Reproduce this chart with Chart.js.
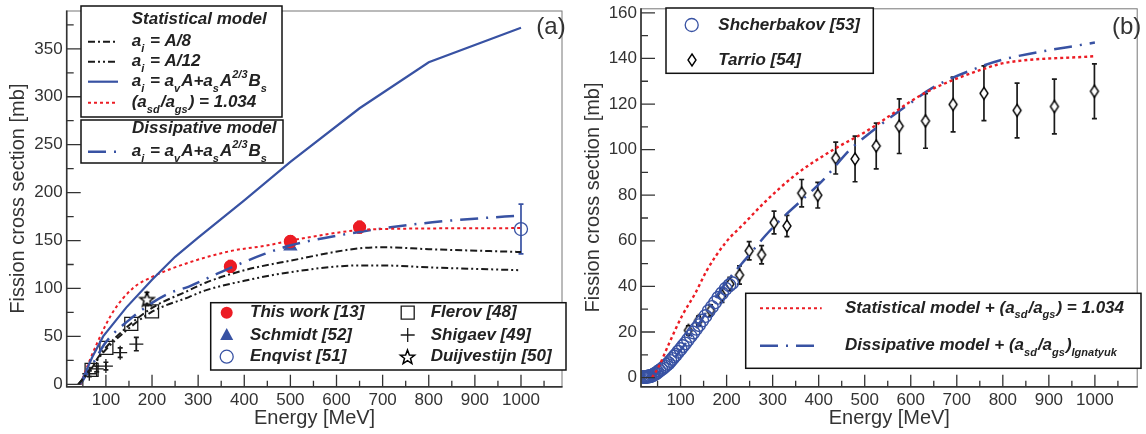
<!DOCTYPE html>
<html>
<head>
<meta charset="utf-8">
<script src="https://cdn.jsdelivr.net/npm/chart.js@4.4.1/dist/chart.umd.min.js"></script>
<style>
  html, body { margin: 0; padding: 0; background: #fff; }
  #wrap { position: relative; width: 1146px; height: 434px; }
  canvas { position: absolute; top: 0; }
</style>
</head>
<body>
<div id="wrap">
  <canvas id="ca" width="573" height="434" style="left:0"></canvas>
  <canvas id="cb" width="573" height="434" style="left:573px"></canvas>
</div>
<script>
const FONT = '"Liberation Sans", Arial, Helvetica, sans-serif';
const BLUE = '#3852a3', RED = '#ec1c24', INK = '#1a1a1a';

// ---- ticks
const xTicks = [100, 200, 300, 400, 500, 600, 700, 800, 900, 1000];
const yTicksA = [0, 50, 100, 150, 200, 250, 300, 350];
const yTicksB = [0, 20, 40, 60, 80, 100, 120, 140, 160];

// ---- panel (a): model curves
const a8E  = [40, 60, 94, 144, 201, 280, 316, 400, 500, 651, 700, 800, 1000];
const a8   = [0, 12, 35, 59, 80, 98, 106, 119, 129, 142, 143, 141, 138];
const a12E = [40, 60, 94, 144, 201, 280, 316, 400, 500, 651, 700, 800, 1000];
const a12  = [0, 11, 33, 56, 76, 91, 98, 108, 117, 124, 124, 122, 119];
const shellE = [44, 50, 70, 94, 144, 200, 250, 300, 400, 500, 650, 800, 1000];
const shell  = [0, 6, 28, 50, 80, 109, 133, 153, 192, 232, 288, 336, 372];
const ratioE = [45, 51, 80, 116, 158, 200, 280, 370, 451, 500, 650, 700, 1000];
const ratio  = [0, 8, 42, 76, 100, 112, 127, 139, 145, 150, 161, 162, 163];
const dissE = [45, 70, 100, 150, 200, 237, 280, 344, 444, 501, 650, 808, 965, 1000];
const diss  = [0, 20, 44, 67, 85, 95, 102, 116, 136, 145, 159, 169, 175, 176];

// ---- panel (a): measurements
const thisWorkE = [370, 500, 650], thisWork = [123, 149, 164], thisWorkErr = [6, 6, 6];
const schmidtE = [500], schmidt = [144];
const enqvistE = [1000], enqvist = [162], enqvistErr = [26];
const flerovE = [69, 101, 155, 200], flerov = [15, 38, 63, 76];
const shigaevE = [64, 80, 100, 131, 166], shigaev = [11, 16, 19, 33, 42], shigaevErr = [3, 3, 4, 5, 7];
const duijE = [189], duij = [89], duijErr = [7];

// ---- panel (b)
const statBE = [38, 53, 75, 103, 132, 157, 197, 240, 283, 350, 432, 503, 632, 767, 803, 1000];
const statB  = [0, 5, 15, 27, 37, 47, 59, 68, 77, 89, 100, 108, 125, 136, 138, 141];
const dissBE = [25, 50, 75, 100, 132, 160, 200, 250, 283, 311, 411, 468, 503, 610, 646, 760, 810, 1000];
const dissB  = [0, 2, 6, 12, 21, 30, 42, 54, 62, 68, 87, 100, 106, 122, 127, 137, 140, 147];
const shchE = [19, 21, 23, 25, 27, 29, 31, 33, 35, 38, 41, 44, 47, 50, 54, 58, 62, 66, 70, 74, 78, 82, 86, 90, 95, 100,
               105, 110, 116, 122, 128, 134, 140, 147, 154, 161, 168, 175, 182, 190, 198, 206, 212];
const shch  = [0.3, 0.3, 0.3, 0.3, 0.4, 0.5, 0.5, 0.6, 0.7, 0.9, 1.2, 1.6, 1.9, 2.4, 3.0, 3.6, 4.2, 4.9, 5.6, 6.3, 7.3, 8.2, 9.2, 10, 11.3, 12.5,
               13.8, 15, 16.6, 18.2, 19.8, 21.4, 23, 25, 27, 29.2, 31, 33, 35, 37, 39, 40.5, 41.5];
const tarrioE = [117, 139, 165, 190, 207, 228, 249, 276, 303, 331, 363, 398, 437, 479, 525, 575, 632, 692, 759, 831, 912, 999];
const tarrio  = [20.7, 25, 29.4, 36, 41, 45, 55.6, 53.9, 68, 66.5, 80.9, 80, 96.3, 95.9, 101.6, 110.3, 112.6, 119.8, 124.7, 117.2, 118.9, 125.6];
const tarrioErr = [2, 2, 2.5, 3, 3, 4, 4, 4, 5, 4.7, 6, 5.6, 7, 10, 10, 12, 12, 12, 12, 12, 12, 12];

// ---- marker images
function starImg(R) {
  const s = Math.ceil(2 * R + 4), c = document.createElement('canvas');
  c.width = c.height = s;
  const g = c.getContext('2d');
  g.beginPath();
  for (let k = 0; k < 10; k++) {
    const r = k % 2 ? R * 0.42 : R, t = -Math.PI / 2 + k * Math.PI / 5;
    g.lineTo(s / 2 + r * Math.cos(t), s / 2 + 1 + r * Math.sin(t));
  }
  g.closePath();
  g.fillStyle = '#fff'; g.fill();
  g.strokeStyle = '#000'; g.lineWidth = 1.5; g.stroke();
  return c;
}
function diamondImg(hw, hh) {
  const c = document.createElement('canvas');
  c.width = Math.ceil(2 * hw + 4); c.height = Math.ceil(2 * hh + 4);
  const g = c.getContext('2d'), cx = c.width / 2, cy = c.height / 2;
  g.beginPath();
  g.moveTo(cx, cy - hh); g.lineTo(cx + hw, cy); g.lineTo(cx, cy + hh); g.lineTo(cx - hw, cy); g.closePath();
  g.fillStyle = '#fff'; g.fill();
  g.strokeStyle = '#000'; g.lineWidth = 1.4; g.stroke();
  return c;
}
const STAR = starImg(7.5);
const DIAM = diamondImg(4, 6);

function xy(E, V) { return E.map((x, i) => ({ x: x, y: V[i] })); }
function curve(E, V, color, dash, w, smooth) {
  return { data: xy(E, V), borderColor: color, borderDash: dash, borderWidth: w, pointRadius: 0,
           fill: false, cubicInterpolationMode: smooth ? 'monotone' : 'default', tension: 0 };
}
function marks(E, V, style, r, stroke, fill, err, errColor, bw) {
  return { data: xy(E, V), showLine: false, pointStyle: style, pointRadius: r,
           pointBorderColor: stroke, pointBackgroundColor: fill, pointBorderWidth: bw || 1.3,
           errY: err, errColor: errColor };
}

function scaleOpts(xr, yr, yt, yw) {
  const tf = { family: FONT, size: 17 };
  return {
    x: {
      type: 'linear', min: xr[0], max: xr[1],
      grid: { display: false, drawTicks: false }, border: { display: false },
      afterBuildTicks: s => { s.ticks = xTicks.map(v => ({ value: v })); },
      afterFit: s => { s.height = 47.3; s.paddingLeft = 0; s.paddingRight = 0; },
      ticks: { autoSkip: false, maxRotation: 0, padding: 3, color: '#333', font: tf, callback: v => String(v) }
    },
    y: {
      type: 'linear', min: yr[0], max: yr[1],
      grid: { display: false, drawTicks: false }, border: { display: false },
      afterBuildTicks: s => { s.ticks = yt.map(v => ({ value: v })); },
      afterFit: s => { s.width = yw; s.paddingTop = 0; s.paddingBottom = 0; },
      ticks: { autoSkip: false, padding: 4, color: '#333', font: tf, callback: v => String(v) }
    }
  };
}

const errBars = {
  id: 'errBars',
  beforeDatasetsDraw(chart) {
    const ctx = chart.ctx, xs = chart.scales.x, ys = chart.scales.y;
    chart.data.datasets.forEach(ds => {
      if (!ds.errY) return;
      ctx.save();
      ctx.strokeStyle = ds.errColor; ctx.lineWidth = 1.7;
      ds.data.forEach((p, j) => {
        const px = xs.getPixelForValue(p.x);
        const y0 = ys.getPixelForValue(p.y - ds.errY[j]), y1 = ys.getPixelForValue(p.y + ds.errY[j]);
        ctx.beginPath();
        ctx.moveTo(px, y0); ctx.lineTo(px, y1);
        ctx.moveTo(px - 2.5, y0); ctx.lineTo(px + 2.5, y0);
        ctx.moveTo(px - 2.5, y1); ctx.lineTo(px + 2.5, y1);
        ctx.stroke();
      });
      ctx.restore();
    });
  }
};

function drawAxes(chart, yMajor, yStep, titleX, tag, tagX) {
  const ctx = chart.ctx, a = chart.chartArea, xs = chart.scales.x, ys = chart.scales.y;
  ctx.save();
  ctx.strokeStyle = '#777'; ctx.lineWidth = 1;
  ctx.strokeRect(a.left, a.top + 0.5, a.right - a.left - 0.5, a.bottom - a.top);
  ctx.strokeStyle = '#333'; ctx.lineWidth = 1.6;
  ctx.beginPath();
  ctx.moveTo(a.left, a.top); ctx.lineTo(a.left, a.bottom); ctx.lineTo(a.right, a.bottom);
  ctx.stroke();
  ctx.lineWidth = 1.3;
  ctx.beginPath();
  for (let v = 50; v <= 1050; v += 50) {
    const p = xs.getPixelForValue(v), len = v % 100 ? 6 : 12;
    ctx.moveTo(p, a.bottom); ctx.lineTo(p, a.bottom - len);
  }
  for (let v = yMajor[0]; v <= ys.max; v += yStep / 2) {
    const p = ys.getPixelForValue(v), len = (v / yStep) % 1 ? 7 : 14;
    ctx.moveTo(a.left, p); ctx.lineTo(a.left + len, p);
  }
  ctx.stroke();
  ctx.fillStyle = '#333'; ctx.textAlign = 'center'; ctx.textBaseline = 'middle';
  ctx.font = '20px ' + FONT;
  ctx.fillText('Energy [MeV]', (a.left + a.right) / 2, 418);
  ctx.font = '24px ' + FONT;
  ctx.fillText(tag, tagX, 27);
  ctx.translate(titleX, (a.top + a.bottom) / 2);
  ctx.rotate(-Math.PI / 2);
  ctx.font = '20px ' + FONT;
  ctx.fillText('Fission cross section [mb]', 0, 0);
  ctx.restore();
}

function rich(ctx, x, y, parts, size) {
  let cx = x;
  ctx.textAlign = 'left'; ctx.textBaseline = 'middle'; ctx.fillStyle = '#222';
  parts.forEach(([t, k]) => {
    const s = k ? Math.round(size * 0.66) : size;
    ctx.font = 'italic bold ' + s + 'px ' + FONT;
    const dy = k === 1 ? size * 0.4 : k === 2 ? -size * 0.42 : 0;
    ctx.fillText(t, cx, y + dy);
    cx += ctx.measureText(t).width + (k ? 1 : 0);
  });
}
function box(ctx, x0, y0, x1, y1) {
  ctx.fillStyle = '#fff'; ctx.fillRect(x0, y0, x1 - x0, y1 - y0);
  ctx.strokeStyle = '#111'; ctx.lineWidth = 1.5; ctx.strokeRect(x0, y0, x1 - x0, y1 - y0);
}
function sample(ctx, x0, x1, y, color, dash, w) {
  ctx.save();
  ctx.strokeStyle = color; ctx.setLineDash(dash); ctx.lineWidth = w;
  ctx.beginPath(); ctx.moveTo(x0, y); ctx.lineTo(x1, y); ctx.stroke();
  ctx.restore();
}
function marker(ctx, kind, x, y) {
  ctx.save();
  ctx.lineWidth = 1.3;
  ctx.beginPath();
  if (kind === 'dot') { ctx.arc(x, y, 6, 0, 7); ctx.fillStyle = RED; ctx.fill(); }
  else if (kind === 'tri') { ctx.moveTo(x, y - 7); ctx.lineTo(x + 6.5, y + 5); ctx.lineTo(x - 6.5, y + 5); ctx.closePath(); ctx.fillStyle = BLUE; ctx.fill(); }
  else if (kind === 'ring') { ctx.arc(x, y, 6.5, 0, 7); ctx.strokeStyle = BLUE; ctx.stroke(); }
  else if (kind === 'sq') { ctx.rect(x - 6.5, y - 6.5, 13, 13); ctx.strokeStyle = INK; ctx.stroke(); }
  else if (kind === 'plus') { ctx.moveTo(x - 7, y); ctx.lineTo(x + 7, y); ctx.moveTo(x, y - 7); ctx.lineTo(x, y + 7); ctx.strokeStyle = INK; ctx.stroke(); }
  else if (kind === 'star') { ctx.drawImage(STAR, Math.round(x - STAR.width / 2), Math.round(y - STAR.height / 2)); }
  else if (kind === 'diam') { ctx.drawImage(DIAM, Math.round(x - DIAM.width / 2), Math.round(y - DIAM.height / 2)); }
  ctx.restore();
}

const DASH_A8 = [7, 3, 2, 3], DASH_A12 = [7, 3, 2, 3, 2, 3], DASH_DOT = [3, 3], DASH_DISS = [18, 8, 2, 8];
const fShell = [['a', 0], ['i', 1], [' = a', 0], ['v', 1], ['A+a', 0], ['s', 1], ['A', 0], ['2/3', 2], ['B', 0], ['s', 1]];
const fRatio = [['(a', 0], ['sd', 1], ['/a', 0], ['gs', 1], [') = 1.034', 0]];

const decorA = {
  id: 'decorA',
  afterDraw(chart) {
    const ctx = chart.ctx;
    drawAxes(chart, yTicksA, 50, 18, '(a)', 551);
    ctx.save();
    box(ctx, 81, 6, 282, 117);
    box(ctx, 81, 120, 283, 163);
    rich(ctx, 131.7, 19.5, [['Statistical model', 0]], 17);
    sample(ctx, 88, 118, 41.7, INK, DASH_A8, 2);
    rich(ctx, 131.7, 41.7, [['a', 0], ['i', 1], [' = A/8', 0]], 17);
    sample(ctx, 88, 118, 61.7, INK, DASH_A12, 2);
    rich(ctx, 131.7, 61.7, [['a', 0], ['i', 1], [' = A/12', 0]], 17);
    sample(ctx, 88, 118, 81.7, BLUE, [], 2.2);
    rich(ctx, 131.7, 81.7, fShell, 17);
    sample(ctx, 88, 118, 102.7, RED, DASH_DOT, 2);
    rich(ctx, 131.7, 102.7, fRatio, 17);
    rich(ctx, 132, 128.3, [['Dissipative model', 0]], 17);
    sample(ctx, 88, 120, 151.7, BLUE, DASH_DISS, 2.5);
    rich(ctx, 131.7, 151.7, fShell, 17);

    box(ctx, 210.7, 302.7, 566, 370);
    const rows = [312.7, 335, 356.7];
    [['dot', 'This work [13]'], ['tri', 'Schmidt [52]'], ['ring', 'Enqvist [51]']].forEach((e, i) => {
      marker(ctx, e[0], 226.7, rows[i]); rich(ctx, 250, rows[i], [[e[1], 0]], 17);
    });
    [['sq', 'Flerov [48]'], ['plus', 'Shigaev [49]'], ['star', 'Duijvestijn [50]']].forEach((e, i) => {
      marker(ctx, e[0], 407.7, rows[i]); rich(ctx, 430.7, rows[i], [[e[1], 0]], 17);
    });
    ctx.restore();
  }
};

const decorB = {
  id: 'decorB',
  afterDraw(chart) {
    const ctx = chart.ctx;
    drawAxes(chart, yTicksB, 20, 20.3, '(b)', 553.7);
    ctx.save();
    box(ctx, 93, 8, 300.3, 73.3);
    marker(ctx, 'ring', 118.7, 25); rich(ctx, 145.3, 25, [['Shcherbakov [53]', 0]], 17);
    marker(ctx, 'diam', 118.7, 60); rich(ctx, 145.3, 60, [['Tarrio [54]', 0]], 17);
    box(ctx, 172.7, 293.3, 568, 368.3);
    sample(ctx, 187, 248.7, 308.3, RED, DASH_DOT, 2);
    rich(ctx, 272, 308.3, [['Statistical model + ', 0]].concat(fRatio), 17);
    sample(ctx, 187, 248.7, 345.7, BLUE, DASH_DISS, 2.5);
    rich(ctx, 272, 345.7, [['Dissipative model + (a', 0], ['sd', 1], ['/a', 0], ['gs', 1], [')', 0], ['Ignatyuk', 1]], 17);
    ctx.restore();
  }
};

function base(plugins, scales, right) {
  return {
    type: 'line',
    options: {
      responsive: false, animation: false, devicePixelRatio: 1,
      layout: { padding: { top: 4, right: right, left: 0, bottom: 0 } },
      plugins: { legend: { display: false }, tooltip: { enabled: false } },
      scales: scales
    },
    plugins: plugins
  };
}

const cfgA = base([errBars, decorA], scaleOpts([15, 1090], [-2.5, 390], yTicksA, 66.7), 3);
cfgA.data = {
  datasets: [
    curve(a8E, a8, INK, DASH_A8, 2, true),
    curve(a12E, a12, INK, DASH_A12, 2, true),
    curve(shellE, shell, BLUE, [], 2.2, false),
    curve(ratioE, ratio, RED, DASH_DOT, 2, true),
    curve(dissE, diss, BLUE, DASH_DISS, 2.5, true),
    marks(flerovE, flerov, 'rect', 9.2, INK, 'rgba(0,0,0,0)'),
    marks(shigaevE, shigaev, 'cross', 7, INK, INK, shigaevErr, INK),
    marks(duijE, duij, STAR, 8, INK, '#fff', duijErr, INK),
    marks(thisWorkE, thisWork, 'circle', 6, RED, RED, thisWorkErr, RED),
    marks(schmidtE, schmidt, 'triangle', 7, BLUE, BLUE),
    marks(enqvistE, enqvist, 'circle', 6.5, BLUE, 'rgba(0,0,0,0)', enqvistErr, BLUE)
  ]
};
new Chart(document.getElementById('ca'), cfgA);

const cfgB = base([errBars, decorB], scaleOpts([14, 1093], [-4, 162], yTicksB, 68), 0);
cfgB.data = {
  datasets: [
    curve(statBE, statB, RED, DASH_DOT, 2.4, true),
    curve(dissBE, dissB, BLUE, DASH_DISS, 2.5, true),
    marks(shchE, shch, 'circle', 6.3, BLUE, 'rgba(0,0,0,0)', null, null, 1.4),
    marks(tarrioE, tarrio, DIAM, 7, INK, '#fff', tarrioErr, INK)
  ]
};
new Chart(document.getElementById('cb'), cfgB);
</script>
</body>
</html>
